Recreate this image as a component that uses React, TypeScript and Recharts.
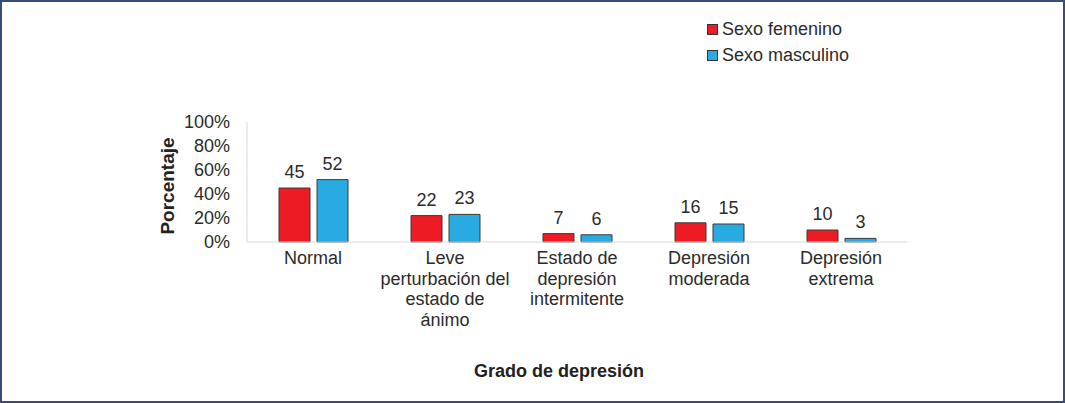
import { Bar, BarChart, LabelList, XAxis, YAxis } from 'recharts';

const categories = [
  'Normal',
  'Leve\nperturbación del\nestado de\nánimo',
  'Estado de\ndepresión\nintermitente',
  'Depresión\nmoderada',
  'Depresión\nextrema',
];
const femenino = [45, 22, 7, 16, 10];
const masculino = [52, 23, 6, 15, 3];
const yTicks = [0, 20, 40, 60, 80, 100];

const data = categories.map((name, i) => ({ name, femenino: femenino[i], masculino: masculino[i] }));

const series = [
  { key: 'femenino', name: 'Sexo femenino', color: '#ed1c24' },
  { key: 'masculino', name: 'Sexo masculino', color: '#29abe2' },
];

const FONT = 'Liberation Sans, Arial, sans-serif';
const TEXT = '#2b2b2b';

function CategoryTick({ x, y, payload }: any) {
  const lines = String(payload.value).split('\n');
  return (
    <text x={x} y={y} textAnchor="middle" fill={TEXT} fontSize={18} fontFamily={FONT}>
      {lines.map((l, i) => (
        <tspan key={i} x={x} dy={i === 0 ? 14 : 20.5}>
          {l}
        </tspan>
      ))}
    </text>
  );
}

export default function App() {
  return (
    <div
      style={{
        position: 'absolute',
        left: 0,
        top: 0,
        width: 1065,
        height: 403,
        boxSizing: 'border-box',
        border: '2px solid #3b4a7c',
        background: '#fff',
        overflow: 'hidden',
      }}
    >
      <div style={{ position: 'absolute', left: -2, top: -2 }}>
        <BarChart
          width={1065}
          height={403}
          data={data}
          margin={{ top: 122, right: 158, left: 170, bottom: 61 }}
          barGap={7}
          barSize={31}
        >
          <XAxis
            dataKey="name"
            axisLine={{ stroke: '#d9d9d9' }}
            tickLine={false}
            tick={<CategoryTick />}
            interval={0}
            height={100}
          />
          <YAxis
            domain={[0, 100]}
            ticks={yTicks}
            interval={0}
            tickFormatter={(v) => `${v}%`}
            axisLine={{ stroke: '#d9d9d9' }}
            tickLine={false}
            tickMargin={11}
            width={77}
            tick={{ fill: TEXT, fontSize: 18, fontFamily: FONT }}
          />
          {series.map((s) => (
            <Bar
              key={s.key}
              dataKey={s.key}
              name={s.name}
              fill={s.color}
              stroke="#3a3a3a"
              strokeWidth={1}
              isAnimationActive={false}
            >
              <LabelList dataKey={s.key} position="top" offset={10} fill={TEXT} fontSize={18} fontFamily={FONT} />
            </Bar>
          ))}
        </BarChart>
      </div>
      <div style={{ position: 'absolute', left: 705, top: 14, fontFamily: FONT, fontSize: 18, color: TEXT }}>
        {series.map((s) => (
          <div key={s.key} style={{ display: 'flex', alignItems: 'center', height: 26 }}>
            <span style={{ width: 9, height: 9, background: s.color, border: '1px solid #333', marginRight: 4 }} />
            {s.name}
          </div>
        ))}
      </div>
      <div
        style={{
          position: 'absolute',
          left: 168 - 2,
          top: 186 - 2,
          transform: 'translate(-50%, -50%) rotate(-90deg)',
          fontFamily: FONT,
          fontSize: 19,
          fontWeight: 'bold',
          color: '#222',
          whiteSpace: 'nowrap',
        }}
      >
        Porcentaje
      </div>
      <div
        style={{
          position: 'absolute',
          left: 559 - 2,
          top: 371 - 2,
          transform: 'translate(-50%, -50%)',
          fontFamily: FONT,
          fontSize: 18,
          fontWeight: 'bold',
          color: '#222',
          whiteSpace: 'nowrap',
        }}
      >
        Grado de depresión
      </div>
    </div>
  );
}
